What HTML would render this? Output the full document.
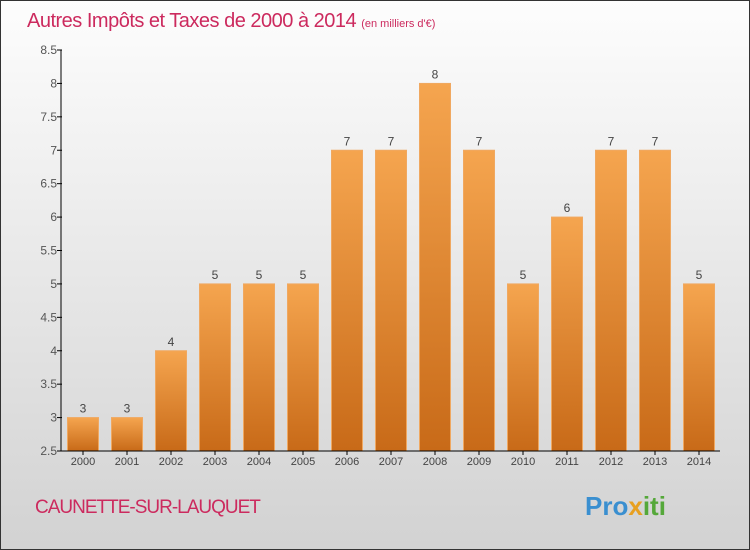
<!DOCTYPE html>
<html><head><meta charset="utf-8"><style>
body{margin:0;}
#c{width:750px;height:550px;position:relative;box-sizing:border-box;border:1px solid #333;background:linear-gradient(#fdfdfd,#d2d2d2);font-family:"Liberation Sans",sans-serif;overflow:hidden}
</style></head><body>
<div id="c">
<svg id="s" width="750" height="550" style="position:absolute;left:-1px;top:-1px">
<defs><linearGradient id="g" x1="0" y1="0" x2="0" y2="1"><stop offset="0" stop-color="#f5a54f"/><stop offset="1" stop-color="#c86a18"/></linearGradient></defs>
<text x="27" y="27" font-size="20" letter-spacing="-0.5" fill="#cc2a5e">Autres Impôts et Taxes de 2000 à 2014 <tspan font-size="11" letter-spacing="0">(en milliers d'€)</tspan></text>
<text x="35" y="513" font-size="19" letter-spacing="-1" fill="#cc2a5e">CAUNETTE-SUR-LAUQUET</text>
<text x="585" y="515" font-size="26" font-weight="bold" fill="#3a8fd0">Pro<tspan fill="#e8a020">x</tspan><tspan fill="#55a83a">iti</tspan></text>
<g id="plot"></g>
</svg>
</div>
<script>
const years=["2000","2001","2002","2003","2004","2005","2006","2007","2008","2009","2010","2011","2012","2013","2014"];
const values=[3,3,4,5,5,5,7,7,8,7,5,6,7,7,5];
const yTicks=[2.5,3,3.5,4,4.5,5,5.5,6,6.5,7,7.5,8,8.5];
const NS="http://www.w3.org/2000/svg";
const g=document.getElementById('plot');
const y=v=>451-(v-2.5)*(401/6);
const x=i=>83+i*44;
function mk(t,a,txt){const e=document.createElementNS(NS,t);for(const k in a)e.setAttribute(k,a[k]);if(txt!==undefined)e.textContent=txt;g.appendChild(e);return e;}
yTicks.forEach(v=>{
 const l=mk('line',{x1:57,x2:62,y1:y(v),y2:y(v),stroke:'#000'});
 
 
 const t=mk('text',{x:57,y:y(v)+4,'text-anchor':'end','font-size':12,fill:'#555'},String(v));
 
 
});
values.forEach((v,i)=>{
 const r=mk('rect',{x:x(i)-15.5,y:y(v),width:31,height:451-y(v),fill:'url(#g)',stroke:'#f0a860','stroke-width':1});
 
 
 const t=mk('text',{x:x(i),y:y(v)-5,'text-anchor':'middle','font-size':12,fill:'#444'},String(v));
 
 
 const k=mk('line',{x1:x(i),x2:x(i),y1:451,y2:455,stroke:'#000'});
 
 
 const xl=mk('text',{x:x(i),y:465,'text-anchor':'middle','font-size':11,fill:'#444'},years[i]);
 
 
});
const ya=mk('line',{x1:61,x2:61,y1:y(8.5),y2:451,stroke:'#000'});


const xa=mk('line',{x1:61,x2:720,y1:451,y2:451,stroke:'#000'});


</script>
</body></html>
